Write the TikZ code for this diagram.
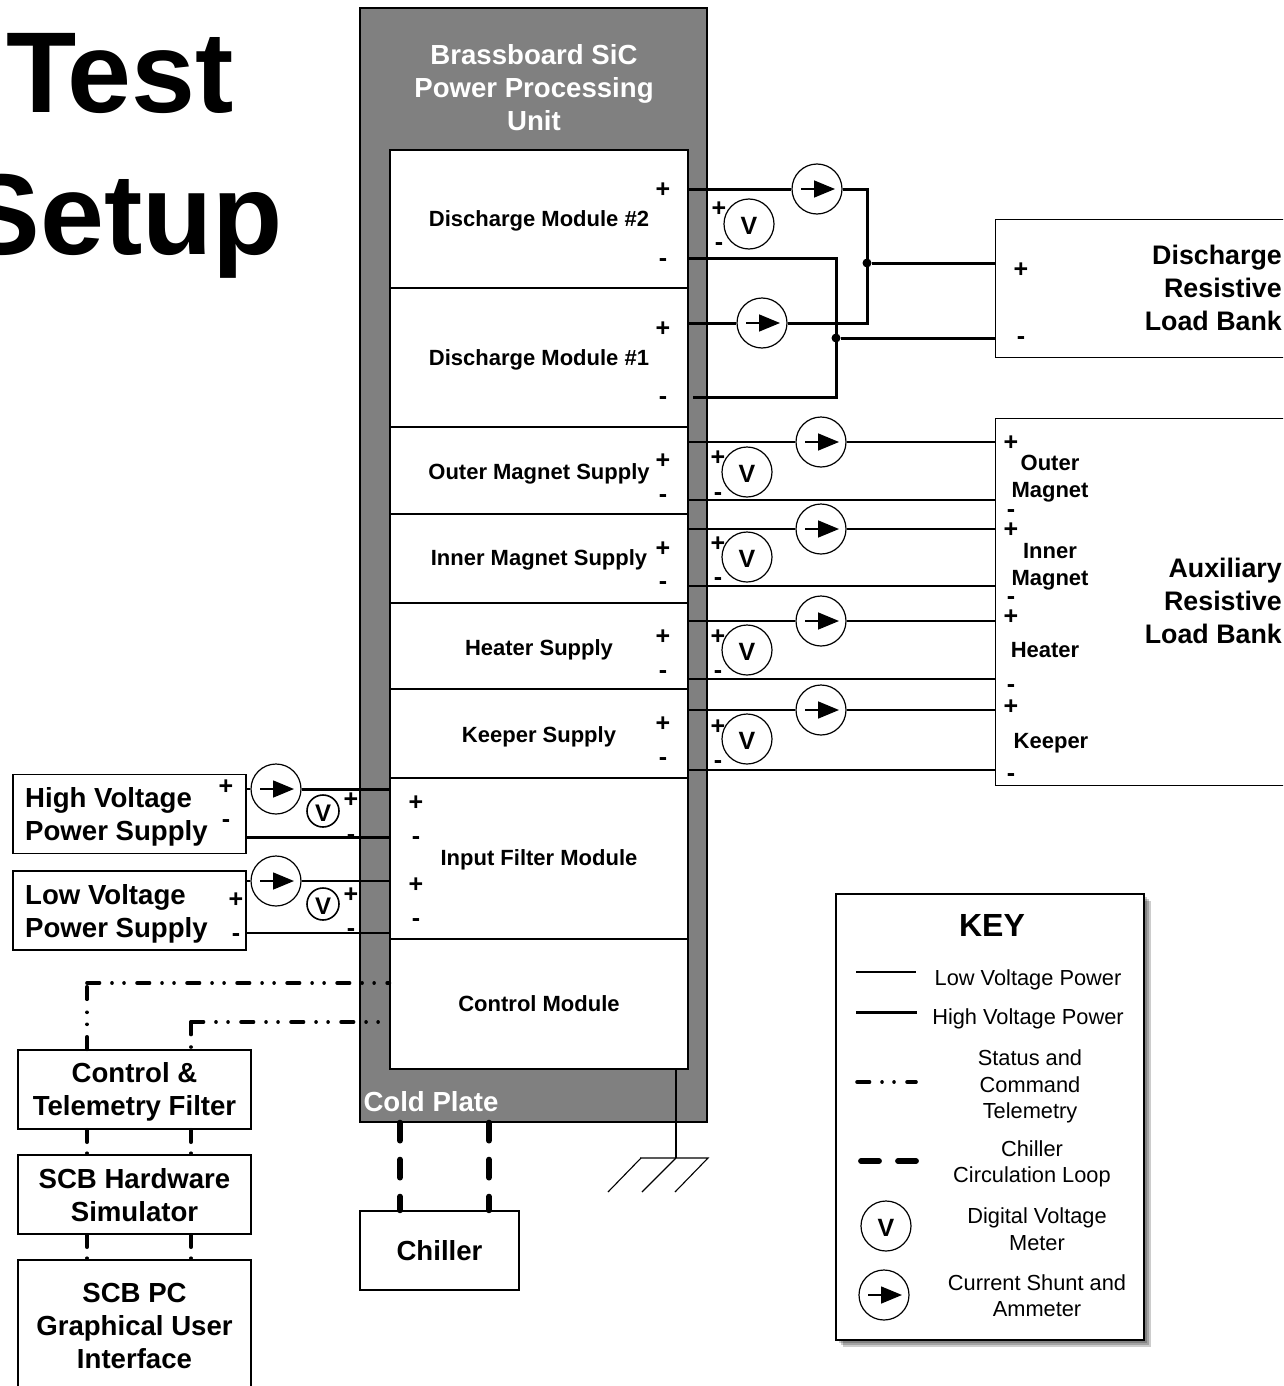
\documentclass[tikz,border=0pt]{standalone}
\usepackage{fontspec}
\setmainfont{Liberation Sans}
\usetikzlibrary{arrows.meta,shadows}
\tikzset{
    module/.style={draw,fill=white,line width=1.2pt,minimum width=298pt,inner sep=0},
    moduletext/.style={inner sep=0,font=\fontsize{22}{26}\selectfont\bfseries},
    bank/.style={draw,fill=white,line width=1.2pt,anchor=north west,inner sep=0},
    labelbox/.style={draw,fill=white,line width=1.4pt,minimum width=233pt,minimum height=79pt,inner sep=0},
    boxtext/.style={inner sep=0,align=center,font=\fontsize{27.6}{33}\selectfont\bfseries},
    banktext/.style={inner sep=0,anchor=east,align=right,font=\fontsize{26.8}{33}\selectfont\bfseries},
    channeltext/.style={inner sep=0,align=center,font=\fontsize{22}{27}\selectfont\bfseries},
    keytext/.style={inner sep=0,align=center,font=\fontsize{21.8}{26.5}\selectfont},
    plus/.style={inner sep=0,yshift=-1pt,font=\fontsize{25}{25}\selectfont\bfseries},
    minus/.style={inner sep=0,yshift=-5pt,font=\fontsize{25}{25}\selectfont\bfseries},
    meter/.style={circle,draw,fill=white,line width=1.2pt,minimum size=50pt,inner sep=0,text height=21pt,text depth=0pt,font=\fontsize{25}{25}\selectfont\bfseries},
    smallmeter/.style={meter,minimum size=32pt,line width=1.6pt,text height=20pt,font=\fontsize{24}{24}\selectfont\bfseries},
    shunt/.style={circle,draw,fill=white,line width=1.2pt,minimum size=50pt,inner sep=0,
        path picture={\draw[line width=1.6pt,-{Triangle[length=21pt,width=17pt]}]
        ([xshift=-16pt]path picture bounding box.center) -- ([xshift=18pt]path picture bounding box.center);}},
    lvwire/.style={line width=1.1pt},
    hvwire/.style={line width=3pt},
    junction/.style={circle,fill=black,inner sep=0,minimum size=9pt},
    telemetry/.style={line width=3.6pt,line cap=round,dash pattern=on 12.5pt off 12.5pt on .01pt off 12pt on .01pt off 13pt},
    telemetrystub/.style={line width=3.6pt,line cap=round,dash pattern=on 12.5pt off 11pt on .01pt off 30pt},
    chilled/.style={line width=5.8pt,line cap=round,dash pattern=on 18pt off 19pt},
}
\begin{document}
\begin{tikzpicture}[x=1pt,y=-1pt]
    \useasboundingbox (0,0) rectangle (1283,1386);
    \clip (0,0) rectangle (1283,1386);

    \node[anchor=base,inner sep=0,font=\fontsize{115}{115}\selectfont\bfseries] (titleTest) at (120,113) {Test};
    \node[anchor=base,inner sep=0,font=\fontsize{115}{115}\selectfont\bfseries] (titleSetup) at (123.5,254) {Setup};

    \node[draw,fill=black!50,line width=1.2pt,minimum width=347pt,minimum height=1114pt,inner sep=0] (coldPlate) at (533.5,565) {};
    \node[boxtext,text=white] (ppuTitle) at (534,88) {Brassboard SiC\\Power Processing\\Unit};
    \node[boxtext,text=white] (coldPlateText) at (431,1102) {Cold Plate};

    \node[module,minimum height=138pt] (dischargeTwo) at (539,219) {};
    \node[module,minimum height=139pt] (dischargeOne) at (539,357.5) {};
    \node[module,minimum height=87pt] (outerSupply) at (539,470.5) {};
    \node[module,minimum height=89pt] (innerSupply) at (539,558.5) {};
    \node[module,minimum height=86pt] (heaterSupply) at (539,646) {};
    \node[module,minimum height=89pt] (keeperSupply) at (539,733.5) {};
    \node[module,minimum height=161pt] (inputFilter) at (539,858.5) {};
    \node[module,minimum height=130pt] (controlModule) at (539,1004) {};
    \node[moduletext] (dischargeTwoText) at (539,221) {Discharge Module \#2};
    \node[moduletext] (dischargeOneText) at (539,359.5) {Discharge Module \#1};
    \node[moduletext] (outerSupplyText) at (539,473.5) {Outer Magnet Supply};
    \node[moduletext] (innerSupplyText) at (539,559.5) {Inner Magnet Supply};
    \node[moduletext] (heaterSupplyText) at (539,650) {Heater Supply};
    \node[moduletext] (keeperSupplyText) at (539,736.5) {Keeper Supply};
    \node[moduletext] (inputFilterText) at (539,859.5) {Input Filter Module};
    \node[moduletext] (controlModuleText) at (539,1004) {Control Module};

    \node[bank,minimum width=300pt,minimum height=138pt] (dischargeBank) at (995,219) {};
    \node[bank,minimum width=300pt,minimum height=367pt] (auxBank) at (995,418) {};
    \node[banktext] (dischargeBankText) at (1282,288) {Discharge\\Resistive\\Load Bank};
    \node[banktext] (auxBankText) at (1282,601) {Auxiliary\\Resistive\\Load Bank};

    \node[labelbox] (hvSupply) at (129.5,814) {};
    \node[labelbox] (lvSupply) at (129.5,910.5) {};
    \node[labelbox] (telemetryFilter) at (134.5,1089.5) {};
    \node[labelbox] (hardwareSim) at (134.5,1194.5) {};
    \node[labelbox,minimum height=136pt] (scbPc) at (134.5,1328) {};
    \node[labelbox,minimum width=159pt] (chiller) at (439.5,1250.5) {};
    \node[boxtext,anchor=west,align=left] (hvSupplyText) at (25,817) {High Voltage\\Power Supply};
    \node[boxtext,anchor=west,align=left] (lvSupplyText) at (25,913.5) {Low Voltage\\Power Supply};
    \node[boxtext] (telemetryFilterText) at (134.5,1092) {Control \&\\Telemetry Filter};
    \node[boxtext] (hardwareSimText) at (134.5,1195.5) {SCB Hardware\\Simulator};
    \node[boxtext] (scbPcText) at (134.5,1326) {SCB PC\\Graphical User\\Interface};
    \node[boxtext] (chillerText) at (439.5,1250.5) {Chiller};

    \node[shunt] (shuntTwo) at (817,189) {};
    \node[shunt] (shuntOne) at (762,323) {};
    \node[shunt] (shuntOuter) at (821,442) {};
    \node[shunt] (shuntInner) at (821,529) {};
    \node[shunt] (shuntHeater) at (821,621) {};
    \node[shunt] (shuntKeeper) at (821,710) {};
    \node[shunt] (shuntHv) at (276,789) {};
    \node[shunt] (shuntLv) at (276,881) {};

    \node[meter] (meterTwo) at (749,224) {V};
    \node[meter] (meterOuter) at (747,472) {V};
    \node[meter] (meterInner) at (747,557) {V};
    \node[meter] (meterHeater) at (747,650) {V};
    \node[meter] (meterKeeper) at (747,739) {V};
    \node[smallmeter] (meterHv) at (323,811) {V};
    \node[smallmeter] (meterLv) at (323,904) {V};

    \node[junction] (junctionA) at (867,263) {};
    \node[junction] (junctionB) at (836,338) {};

    \draw[hvwire] (dischargeTwo.east |- shuntTwo) -- (shuntTwo.west);
    \draw[hvwire] (shuntTwo.east) -- (shuntTwo -| junctionA) -- (shuntOne -| junctionA) -- (shuntOne.east);
    \draw[hvwire] (shuntOne.west) -- (dischargeOne.east |- shuntOne);
    \draw[hvwire] (junctionA) -- (dischargeBank.west |- junctionA);
    \draw[hvwire] (dischargeTwo.east |- 0,258) -- (junctionB |- 0,258) -- (junctionB |- 0,397) -- ([xshift=4pt]dischargeOne.east |- 0,397);
    \draw[hvwire] (junctionB) -- (dischargeBank.west |- junctionB);

    \draw[lvwire] (outerSupply.east |- shuntOuter) -- (shuntOuter.west);
    \draw[lvwire] (shuntOuter.east) -- (auxBank.west |- shuntOuter);
    \draw[lvwire] (outerSupply.east |- 0,500) -- (auxBank.west |- 0,500);
    \draw[lvwire] (innerSupply.east |- shuntInner) -- (shuntInner.west);
    \draw[lvwire] (shuntInner.east) -- (auxBank.west |- shuntInner);
    \draw[lvwire] (innerSupply.east |- 0,586) -- (auxBank.west |- 0,586);
    \draw[lvwire] (heaterSupply.east |- shuntHeater) -- (shuntHeater.west);
    \draw[lvwire] (shuntHeater.east) -- (auxBank.west |- shuntHeater);
    \draw[lvwire] (heaterSupply.east |- 0,679) -- (auxBank.west |- 0,679);
    \draw[lvwire] (keeperSupply.east |- shuntKeeper) -- (shuntKeeper.west);
    \draw[lvwire] (shuntKeeper.east) -- (auxBank.west |- shuntKeeper);
    \draw[lvwire] (keeperSupply.east |- 0,770) -- (auxBank.west |- 0,770);

    \draw[lvwire] (hvSupply.east |- shuntHv) -- (shuntHv.west);
    \draw[hvwire] (shuntHv.east) -- (inputFilter.west |- shuntHv);
    \draw[hvwire] (hvSupply.east |- 0,837) -- (inputFilter.west |- 0,837);
    \draw[lvwire] (lvSupply.east |- shuntLv) -- (shuntLv.west);
    \draw[lvwire] (shuntLv.east) -- (inputFilter.west |- shuntLv);
    \draw[lvwire] (lvSupply.east |- 0,933) -- (inputFilter.west |- 0,933);

    \coordinate (cornerOuter) at (87,983);
    \coordinate (cornerInner) at (191,1022);
    \draw[telemetry] (telemetryFilter.north -| cornerOuter) -- (cornerOuter);
    \draw[telemetry] (cornerOuter) -- (controlModule.west |- cornerOuter);
    \draw[telemetry] (cornerInner) -- (telemetryFilter.north -| cornerInner);
    \draw[telemetry] (cornerInner) -- ([xshift=-7pt]controlModule.west |- cornerInner);
    \draw[telemetrystub] (telemetryFilter.south -| cornerOuter) -- (hardwareSim.north -| cornerOuter);
    \draw[telemetrystub] (telemetryFilter.south -| cornerInner) -- (hardwareSim.north -| cornerInner);
    \draw[telemetrystub] (hardwareSim.south -| cornerOuter) -- (scbPc.north -| cornerOuter);
    \draw[telemetrystub] (hardwareSim.south -| cornerInner) -- (scbPc.north -| cornerInner);
    \draw[chilled] (coldPlate.south -| 400,0) -- (chiller.north -| 400,0);
    \draw[chilled] (coldPlate.south -| 489,0) -- (chiller.north -| 489,0);

    \coordinate (groundTop) at (676,1158);
    \draw[lvwire] (controlModule.south -| groundTop) -- (groundTop);
    \draw[lvwire] (640,1158) -- (708,1158) -- (675,1192);
    \draw[lvwire] (groundTop) -- (642,1192);
    \draw[lvwire] (641,1158) -- (608,1192);

    \node[plus] (pTwoP) at (663,189) {+};
    \node[minus] (pTwoM) at (663,258) {-};
    \node[plus] (pOneP) at (663,328) {+};
    \node[minus] (pOneM) at (663,396) {-};
    \node[plus] (pOuterP) at (663,460) {+};
    \node[minus] (pOuterM) at (663,494) {-};
    \node[plus] (pInnerP) at (663,548) {+};
    \node[minus] (pInnerM) at (663,581) {-};
    \node[plus] (pHeaterP) at (663,636) {+};
    \node[minus] (pHeaterM) at (663,670) {-};
    \node[plus] (pKeeperP) at (663,723) {+};
    \node[minus] (pKeeperM) at (663,757) {-};
    \node[plus] (pInHvP) at (416,802) {+};
    \node[minus] (pInHvM) at (416,836) {-};
    \node[plus] (pInLvP) at (416,884) {+};
    \node[minus] (pInLvM) at (416,918) {-};

    \node[plus] (vTwoP) at (719,208) {+};
    \node[minus] (vTwoM) at (719,242) {-};
    \node[plus] (vOuterP) at (718,457) {+};
    \node[minus] (vOuterM) at (718,492) {-};
    \node[plus] (vInnerP) at (718,543) {+};
    \node[minus] (vInnerM) at (718,577) {-};
    \node[plus] (vHeaterP) at (718,636) {+};
    \node[minus] (vHeaterM) at (718,670) {-};
    \node[plus] (vKeeperP) at (718,726) {+};
    \node[minus] (vKeeperM) at (718,760) {-};

    \node[plus] (bankDisP) at (1021,269) {+};
    \node[minus] (bankDisM) at (1021,336) {-};
    \node[plus] (bankOuterP) at (1011,442) {+};
    \node[minus] (bankOuterM) at (1011,509) {-};
    \node[plus] (bankInnerP) at (1011,529) {+};
    \node[minus] (bankInnerM) at (1011,596) {-};
    \node[plus] (bankHeaterP) at (1011,616) {+};
    \node[minus] (bankHeaterM) at (1011,684) {-};
    \node[plus] (bankKeeperP) at (1011,706) {+};
    \node[minus] (bankKeeperM) at (1011,773) {-};

    \node[plus] (hvP) at (226,786) {+};
    \node[minus] (hvM) at (226,819) {-};
    \node[plus] (lvP) at (236,899) {+};
    \node[minus] (lvM) at (236,933) {-};
    \node[plus] (vHvP) at (351,799) {+};
    \node[minus] (vHvM) at (351,834) {-};
    \node[plus] (vLvP) at (351,894) {+};
    \node[minus] (vLvM) at (351,928) {-};

    \node[channeltext] (outerText) at (1050,479) {Outer\\Magnet};
    \node[channeltext] (innerText) at (1050,566.5) {Inner\\Magnet};
    \node[channeltext] (heaterText) at (1045,650) {Heater};
    \node[channeltext] (keeperText) at (1051,743) {Keeper};

    \node[draw,fill=white,line width=1.4pt,minimum width=308pt,minimum height=446pt,inner sep=0,
        drop shadow={shadow xshift=3pt,shadow yshift=-3pt,fill=black,opacity=.2},
        drop shadow={shadow xshift=5pt,shadow yshift=-5pt,fill=black,opacity=.2},
        drop shadow={shadow xshift=7pt,shadow yshift=-7pt,fill=black,opacity=.2}] (keyBox) at (990,1117) {};
    \node[inner sep=0,font=\fontsize{32}{32}\selectfont\bfseries] (keyTitle) at (992,925) {KEY};
    \coordinate (lowA) at (856,972);
    \coordinate (lowB) at (916,972);
    \coordinate (highA) at (856,1012);
    \coordinate (highB) at (917,1012);
    \coordinate (telA) at (857,1082);
    \coordinate (telB) at (916,1082);
    \coordinate (chillA) at (861,1161);
    \coordinate (chillB) at (916,1161);
    \draw[lvwire] (lowA) -- (lowB);
    \draw[hvwire] (highA) -- (highB);
    \draw[telemetry] (telA) -- (telB);
    \draw[chilled] (chillA) -- (chillB);
    \node[keytext] (keyLow) at (1028,980) {Low Voltage Power};
    \node[keytext] (keyHigh) at (1028,1019) {High Voltage Power};
    \node[keytext] (keyTel) at (1030,1086.5) {Status and\\Command\\Telemetry};
    \node[keytext] (keyChill) at (1032,1164) {Chiller\\Circulation Loop};
    \node[meter] (keyMeter) at (886,1226) {V};
    \node[keytext] (keyMeterText) at (1037,1229) {Digital Voltage\\Meter};
    \node[shunt] (keyShunt) at (884,1295) {};
    \node[keytext] (keyShuntText) at (1037,1295.5) {Current Shunt and\\Ammeter};
\end{tikzpicture}
\end{document}
